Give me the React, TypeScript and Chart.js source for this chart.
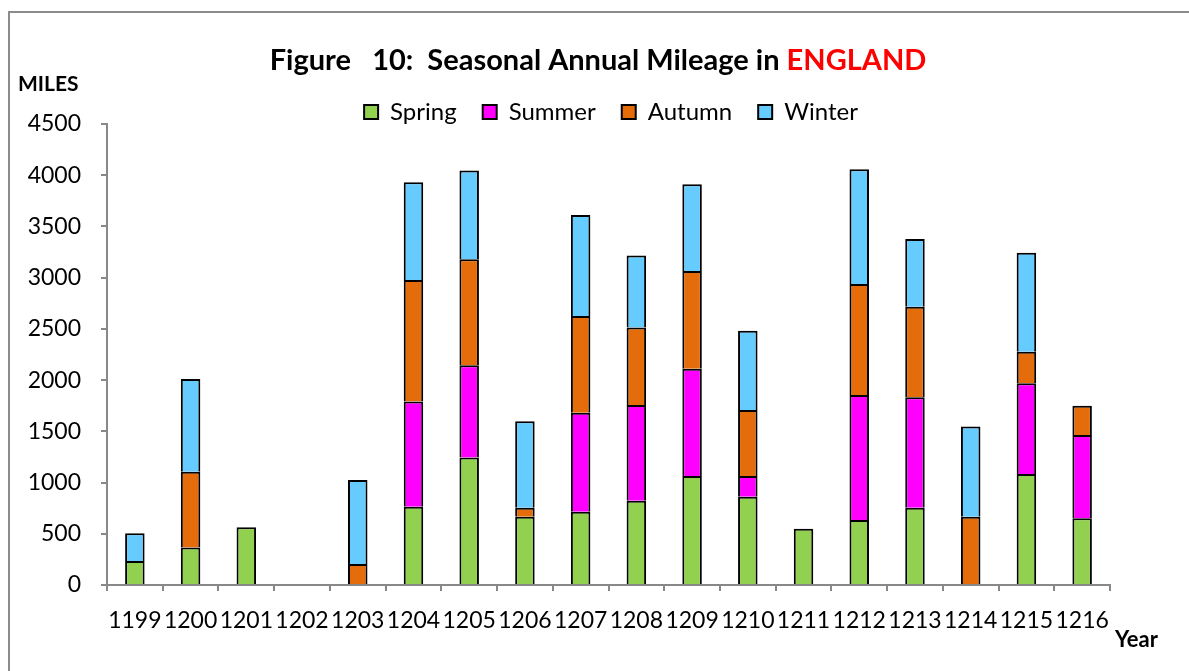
import { useEffect, useRef } from 'react';
import { Chart, registerables } from 'chart.js';

Chart.register(...registerables);

const years = ['1199', '1200', '1201', '1202', '1203', '1204', '1205', '1206', '1207', '1208', '1209', '1210', '1211', '1212', '1213', '1214', '1215', '1216'];
const spring = [235, 365, 563, null, null, 765, 1245, 667, 715, 823, 1065, 862, 550, 635, 755, null, 1084, 651];
const summer = [null, null, null, null, null, 1025, 900, null, 967, 935, 1047, 202, null, 1220, 1077, null, 885, 813];
const autumn = [null, 740, null, null, 205, 1187, 1035, 88, 945, 755, 953, 644, null, 1083, 885, 667, 309, 286];
const winter = [270, 905, null, null, 820, 954, 865, 843, 985, 703, 846, 775, null, 1120, 661, 879, 966, null];

const seriesNames = ['Spring', 'Summer', 'Autumn', 'Winter'];
const seriesColors = ['#92D050', '#FF00FF', '#E46C0A', '#66CCFF'];
const yMin = 0;
const yMax = 4500;
const yStep = 500;

const titleMain = 'Figure   10:  Seasonal Annual Mileage in ';
const titleAccent = 'ENGLAND';
const yAxisTitle = 'MILES';
const xAxisTitle = 'Year';

const FONT = 'Lato';

const decorations = {
  id: 'decorations',
  afterLayout(chart: any) {
    const lg = chart.legend;
    if (!lg) return;
    const dx = 611 - (lg.left + lg.right) / 2;
    lg.left += dx;
    lg.right += dx;
  },
  afterDraw(chart: any) {
    const ctx = chart.ctx as CanvasRenderingContext2D;
    ctx.save();
    ctx.textAlign = 'left';
    ctx.textBaseline = 'alphabetic';
    ctx.font = `bold 29px ${FONT}`;
    const w1 = ctx.measureText(titleMain).width;
    const w2 = ctx.measureText(titleAccent).width;
    const x0 = 598 - (w1 + w2) / 2;
    ctx.fillStyle = '#000';
    ctx.fillText(titleMain, x0, 70);
    ctx.fillStyle = '#FF0000';
    ctx.fillText(titleAccent, x0 + w1, 70);
    ctx.fillStyle = '#000';
    ctx.font = `bold 21px ${FONT}`;
    ctx.fillText(yAxisTitle, 18, 91);
    ctx.font = `bold 22px ${FONT}`;
    ctx.fillText(xAxisTitle, 1115, 647);
    ctx.restore();
  },
};

export default function App() {
  const canvasRef = useRef<HTMLCanvasElement | null>(null);

  useEffect(() => {
    const canvas = canvasRef.current;
    if (!canvas) return;
    const seriesData = [spring, summer, autumn, winter];
    const chart = new Chart(canvas, {
      type: 'bar',
      data: {
        labels: years,
        datasets: seriesNames.map((name, i) => ({
          label: name,
          data: seriesData[i],
          backgroundColor: seriesColors[i],
          borderColor: '#000',
          borderWidth: { top: 2, left: 2, right: 2, bottom: 0 },
          borderSkipped: false,
          inflateAmount: 0,
          barPercentage: 0.35,
          categoryPercentage: 1,
        })),
      },
      options: {
        responsive: false,
        animation: false,
        devicePixelRatio: 1,
        color: '#000',
        font: { family: FONT, size: 23 },
        layout: { padding: { left: 10, right: 79, top: 74, bottom: 0 } },
        plugins: {
          title: { display: false },
          tooltip: { enabled: false },
          legend: {
            display: true,
            position: 'top',
            maxHeight: 50,
            labels: {
              boxWidth: 14,
              boxHeight: 14,
              padding: 26,
              color: '#000',
              font: { family: FONT, size: 24 },
              generateLabels: (chart: any) =>
                chart.data.datasets.map((ds: any, i: number) => ({
                  text: ds.label,
                  fillStyle: ds.backgroundColor,
                  strokeStyle: '#000',
                  lineWidth: 2,
                  fontColor: '#000',
                  hidden: false,
                  datasetIndex: i,
                })),
            },
          },
        },
        scales: {
          x: {
            stacked: true,
            afterFit: (scale: any) => {
              scale.height = 86;
            },
            grid: {
              display: true,
              drawOnChartArea: false,
              drawTicks: true,
              tickLength: 6,
              color: '#888',
              lineWidth: 2,
              offset: true,
            },
            border: { display: true, color: '#888', width: 2 },
            ticks: {
              autoSkip: false,
              maxRotation: 0,
              minRotation: 0,
              padding: 16,
              color: '#000',
              font: { family: FONT, size: 23 },
            },
          },
          y: {
            stacked: true,
            min: yMin,
            max: yMax,
            afterFit: (scale: any) => {
              scale.width = 97;
            },
            grid: {
              display: true,
              drawOnChartArea: false,
              drawTicks: true,
              tickLength: 6,
              color: '#888',
              lineWidth: 2,
            },
            border: { display: true, color: '#888', width: 2 },
            ticks: {
              stepSize: yStep,
              padding: 20,
              color: '#000',
              font: { family: FONT, size: 23 },
              callback: (v: any) => String(v),
            },
          },
        },
      },
      plugins: [decorations],
    } as any);
    return () => chart.destroy();
  }, []);

  return (
    <div style={{ position: 'fixed', left: 0, top: 0, width: 1189, height: 671, overflow: 'hidden', background: '#fff' }}>
      <div style={{ position: 'absolute', left: 8, top: 11, width: 1260, height: 760, border: '2px solid #8c8c8c', boxSizing: 'border-box' }} />
      <canvas ref={canvasRef} width={1189} height={671} style={{ position: 'absolute', left: 0, top: 0, display: 'block' }} />
    </div>
  );
}
